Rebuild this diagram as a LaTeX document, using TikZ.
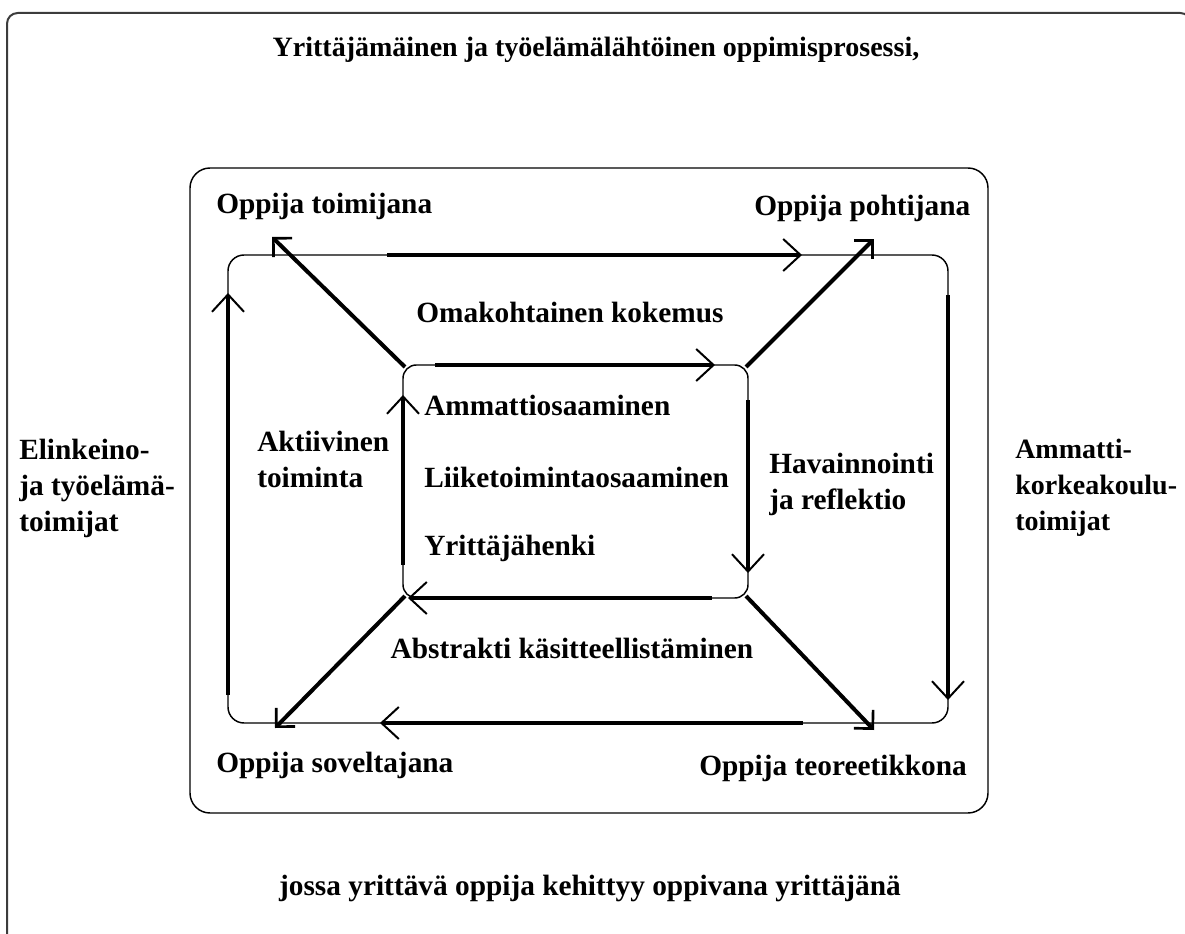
\documentclass[tikz,border=0pt]{standalone}
\usepackage{fontspec}
\setmainfont{Liberation Serif}
\usetikzlibrary{arrows.meta}

\tikzset{
  lbl/.style={inner sep=0.75pt, font=\fontsize{22}{27}\selectfont\bfseries, align=left},
  thinloop/.style={line width=1.1pt},
  cyclearrow/.style={line width=3pt, -{Straight Barb[length=13pt,width=24pt,line width=1.5pt]}},
  diagarrow/.style={line width=3pt, -{Straight Barb[length=10pt,width=20pt,line width=2pt]}},
}

\begin{document}
\begin{tikzpicture}[x=0.75pt,y=0.75pt,yscale=-1,xscale=1]
\useasboundingbox (0,0) rectangle (1185,934);

%Outer frame (runs off the page)
\begin{scope}
\clip (0,0) rectangle (1185,934);
\draw [line width=1.5pt, color={rgb, 255:red, 60; green, 60; blue, 60}, rounded corners=8] (7,13) rectangle (1191,948);
\end{scope}
%Middle frame
\draw [thinloop, rounded corners=15] (190,168) rectangle (988,813);

%Outer learning loop
\coordinate (lnw) at (228,255);
\coordinate (lse) at (948,723);
\draw [thinloop, rounded corners=12] (lnw) rectangle (lse);
%Inner box
\coordinate (cnw) at (403,365);
\coordinate (cse) at (748,598);
\draw [thinloop, rounded corners=10] (cnw) rectangle (cse);

%Thick segments on outer loop
\coordinate (lt1) at (387,255);
\coordinate (lt2) at (802,255);
\coordinate (lr1) at (948,295);
\coordinate (lr2) at (948,700);
\coordinate (lb1) at (803,723);
\coordinate (lb2) at (380,723);
\coordinate (ll1) at (228,695);
\coordinate (ll2) at (228,293);
\draw [cyclearrow] (lt1) -- (lt2);
\draw [cyclearrow] (lr1) -- (lr2);
\draw [cyclearrow] (lb1) -- (lb2);
\draw [cyclearrow] (ll1) -- (ll2);

%Thick segments on inner box
\coordinate (ct1) at (435,365);
\coordinate (ct2) at (715,365);
\coordinate (cr1) at (748,400);
\coordinate (cr2) at (748,573);
\coordinate (cb1) at (712,598);
\coordinate (cb2) at (408,598);
\coordinate (cl1) at (403,565);
\coordinate (cl2) at (403,395);
\draw [cyclearrow] (ct1) -- (ct2);
\draw [cyclearrow] (cr1) -- (cr2);
\draw [cyclearrow] (cb1) -- (cb2);
\draw [cyclearrow] (cl1) -- (cl2);

%Diagonals from inner corners
\coordinate (dnw) at (405,367);
\coordinate (dne) at (746,367);
\coordinate (dsw) at (405,596);
\coordinate (dse) at (746,596);
\coordinate (tnw) at (272,237);
\coordinate (tne) at (874,239);
\coordinate (tsw) at (275,728);
\coordinate (tse) at (874,730);
\draw [diagarrow] (dnw) -- (tnw);
\draw [diagarrow] (dne) -- (tne);
\draw [diagarrow] (dsw) -- (tsw);
\draw [diagarrow] (dse) -- (tse);

% Text Node
\node (title) at (596,50) [lbl, font=\fontsize{21}{27}\selectfont\bfseries] {Yrittäjämäinen ja työelämälähtöinen oppimisprosessi,};
% Text Node
\node (footer) at (590,888) [lbl] {jossa yrittävä oppija kehittyy oppivana yrittäjänä};
% Text Node
\node (toimija) at (215,206) [lbl, anchor=west] {Oppija toimijana};
% Text Node
\node (pohtija) at (753,208) [lbl, anchor=west] {Oppija pohtijana};
% Text Node
\node (soveltaja) at (215,765) [lbl, anchor=west] {Oppija soveltajana};
% Text Node
\node (teoreetikko) at (698,768) [lbl, anchor=west] {Oppija teoreetikkona};
% Text Node
\node (kokemus) at (570,313) [lbl] {Omakohtainen kokemus};
% Text Node
\node (kasitteet) at (572,648) [lbl] {Abstrakti käsitteellistäminen};
% Text Node
\node (toiminta) at (256,459) [lbl, anchor=west] {Aktiivinen\\toiminta};
% Text Node
\node (reflektio) at (768,484) [lbl, anchor=west] {Havainnointi\\ja reflektio};
% Text Node
\node (ammatti) at (423,405) [lbl, anchor=west] {Ammattiosaaminen};
% Text Node
\node (liiketoiminta) at (423,477) [lbl, anchor=west] {Liiketoimintaosaaminen};
% Text Node
\node (henki) at (423,548) [lbl, anchor=west] {Yrittäjähenki};
% Text Node
\node (elinkeino) at (18,488) [lbl, anchor=west] {Elinkeino-\\ja työelämä-\\toimijat};
% Text Node
\node (amk) at (1014,488) [lbl, anchor=west, font=\fontsize{21}{27}\selectfont\bfseries] {Ammatti-\\korkeakoulu-\\toimijat};

\end{tikzpicture}
\end{document}
